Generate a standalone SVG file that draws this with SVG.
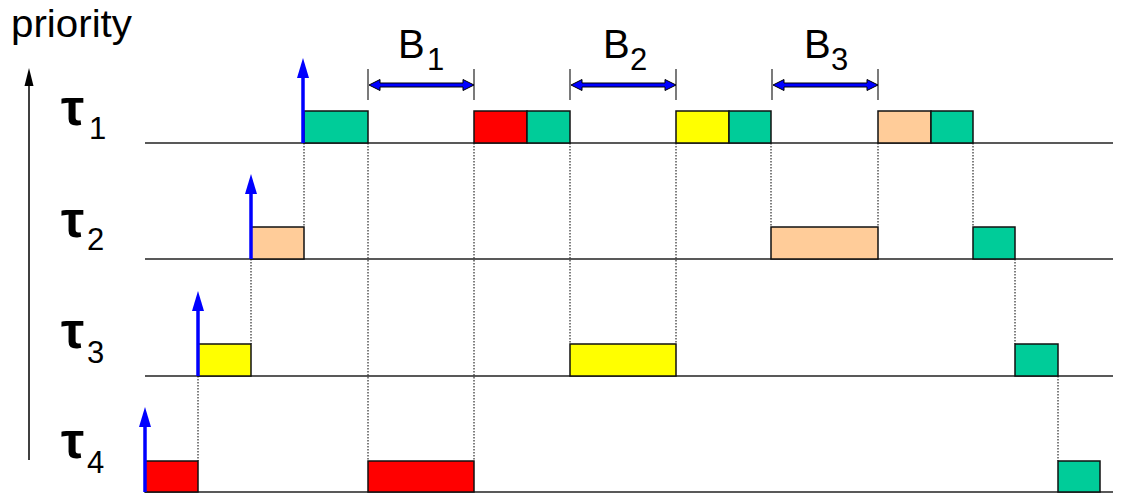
<svg xmlns="http://www.w3.org/2000/svg" width="1121" height="502" viewBox="0 0 1121 502">
<style>
.txt{font-family:"Liberation Sans",Arial,sans-serif;fill:#000}
.tau{font-family:"Liberation Sans",Arial,sans-serif;font-weight:bold;font-size:52px;fill:#000}
.sub{font-family:"Liberation Sans",Arial,sans-serif;font-size:31px;fill:#000}
.bl{font-family:"Liberation Sans",Arial,sans-serif;font-size:40px;fill:#000}
.base{stroke:#222;stroke-width:1.6;fill:none}
.box{stroke:#111;stroke-width:1.5}
.g{fill:#00CC99}.r{fill:#FF0000}.y{fill:#FFFF00}.p{fill:#FFCC99}
.dot{stroke:#000;stroke-width:1;stroke-dasharray:1.5,1.5;fill:none}
.rel{stroke:#0000FF;stroke-width:3.5;fill:none}
.head{fill:#0000FF}
.tick{stroke:#333;stroke-width:1.3}
.barr{fill:#0000FF;stroke:#000;stroke-width:1}
</style>
<g id="axis">
<text class="txt" x="11" y="37" font-size="38" textLength="121" lengthAdjust="spacingAndGlyphs">priority</text>
<line x1="29" y1="460" x2="29" y2="82" stroke="#000" stroke-width="1.5"/>
<polygon points="29,68 24.5,86 33.5,86" fill="#000"/>
</g>
<g id="labels">
<text class="tau" x="61" y="125">τ</text><text class="sub" x="89" y="139">1</text>
<text class="tau" x="61" y="237">τ</text><text class="sub" x="87" y="250">2</text>
<text class="tau" x="61" y="348">τ</text><text class="sub" x="87" y="363">3</text>
<text class="tau" x="61" y="458">τ</text><text class="sub" x="87" y="473">4</text>
</g>
<g id="connectors">
<line class="dot" x1="198" y1="376" x2="198" y2="461"/>
<line class="dot" x1="251" y1="259" x2="251" y2="344"/>
<line class="dot" x1="304" y1="143" x2="304" y2="227"/>
<line class="dot" x1="368" y1="143" x2="368" y2="461"/>
<line class="dot" x1="474" y1="143" x2="474" y2="461"/>
<line class="dot" x1="570" y1="143" x2="570" y2="344"/>
<line class="dot" x1="676" y1="143" x2="676" y2="344"/>
<line class="dot" x1="771" y1="143" x2="771" y2="227"/>
<line class="dot" x1="878" y1="143" x2="878" y2="227"/>
<line class="dot" x1="973" y1="143" x2="973" y2="227"/>
<line class="dot" x1="1015" y1="259" x2="1015" y2="344"/>
<line class="dot" x1="1058" y1="376" x2="1058" y2="461"/>
</g>
<g id="tau1">
<line class="base" x1="145" y1="143" x2="1113" y2="143"/>
<rect class="box g" x="304" y="111" width="64" height="32"/>
<rect class="box r" x="474" y="111" width="53" height="32"/>
<rect class="box g" x="527" y="111" width="43" height="32"/>
<rect class="box y" x="676" y="111" width="53" height="32"/>
<rect class="box g" x="729" y="111" width="42" height="32"/>
<rect class="box p" x="878" y="111" width="53" height="32"/>
<rect class="box g" x="931" y="111" width="42" height="32"/>
<line class="rel" x1="303" y1="143" x2="303" y2="76"/>
<polygon class="head" points="303,58 297,78 309,78"/>
</g>
<g id="tau2">
<line class="base" x1="145" y1="259" x2="1113" y2="259"/>
<rect class="box p" x="251" y="227" width="53" height="32"/>
<rect class="box p" x="771" y="227" width="107" height="32"/>
<rect class="box g" x="973" y="227" width="42" height="32"/>
<line class="rel" x1="251" y1="259" x2="251" y2="192"/>
<polygon class="head" points="251,174 245,194 257,194"/>
</g>
<g id="tau3">
<line class="base" x1="145" y1="376" x2="1113" y2="376"/>
<rect class="box y" x="198" y="344" width="53" height="32"/>
<rect class="box y" x="570" y="344" width="106" height="32"/>
<rect class="box g" x="1015" y="344" width="43" height="32"/>
<line class="rel" x1="198" y1="376" x2="198" y2="309"/>
<polygon class="head" points="198,291 192,311 204,311"/>
</g>
<g id="tau4">
<line class="base" x1="145" y1="492" x2="1113" y2="492"/>
<rect class="box r" x="145" y="461" width="53" height="31"/>
<rect class="box r" x="368" y="461" width="106" height="31"/>
<rect class="box g" x="1058" y="461" width="42" height="31"/>
<line class="rel" x1="145" y1="492" x2="145" y2="425"/>
<polygon class="head" points="145,407 139,427 151,427"/>
</g>
<g id="B1">
<line class="tick" x1="368" y1="69" x2="368" y2="100"/>
<line class="tick" x1="474" y1="69" x2="474" y2="100"/>
<polygon class="barr" points="369,85 380,79.5 380,83 463,83 463,79.5 474,85 463,90.5 463,87 380,87 380,90.5"/>
<text class="bl" x="398" y="58">B</text><text class="sub" x="427" y="70">1</text>
</g>
<g id="B2">
<line class="tick" x1="570" y1="69" x2="570" y2="100"/>
<line class="tick" x1="676" y1="69" x2="676" y2="100"/>
<polygon class="barr" points="571,85 582,79.5 582,83 665,83 665,79.5 676,85 665,90.5 665,87 582,87 582,90.5"/>
<text class="bl" x="603" y="58">B</text><text class="sub" x="630" y="70">2</text>
</g>
<g id="B3">
<line class="tick" x1="772" y1="69" x2="772" y2="100"/>
<line class="tick" x1="878" y1="69" x2="878" y2="100"/>
<polygon class="barr" points="773,85 784,79.5 784,83 867,83 867,79.5 878,85 867,90.5 867,87 784,87 784,90.5"/>
<text class="bl" x="804" y="58">B</text><text class="sub" x="831" y="70">3</text>
</g>
</svg>
